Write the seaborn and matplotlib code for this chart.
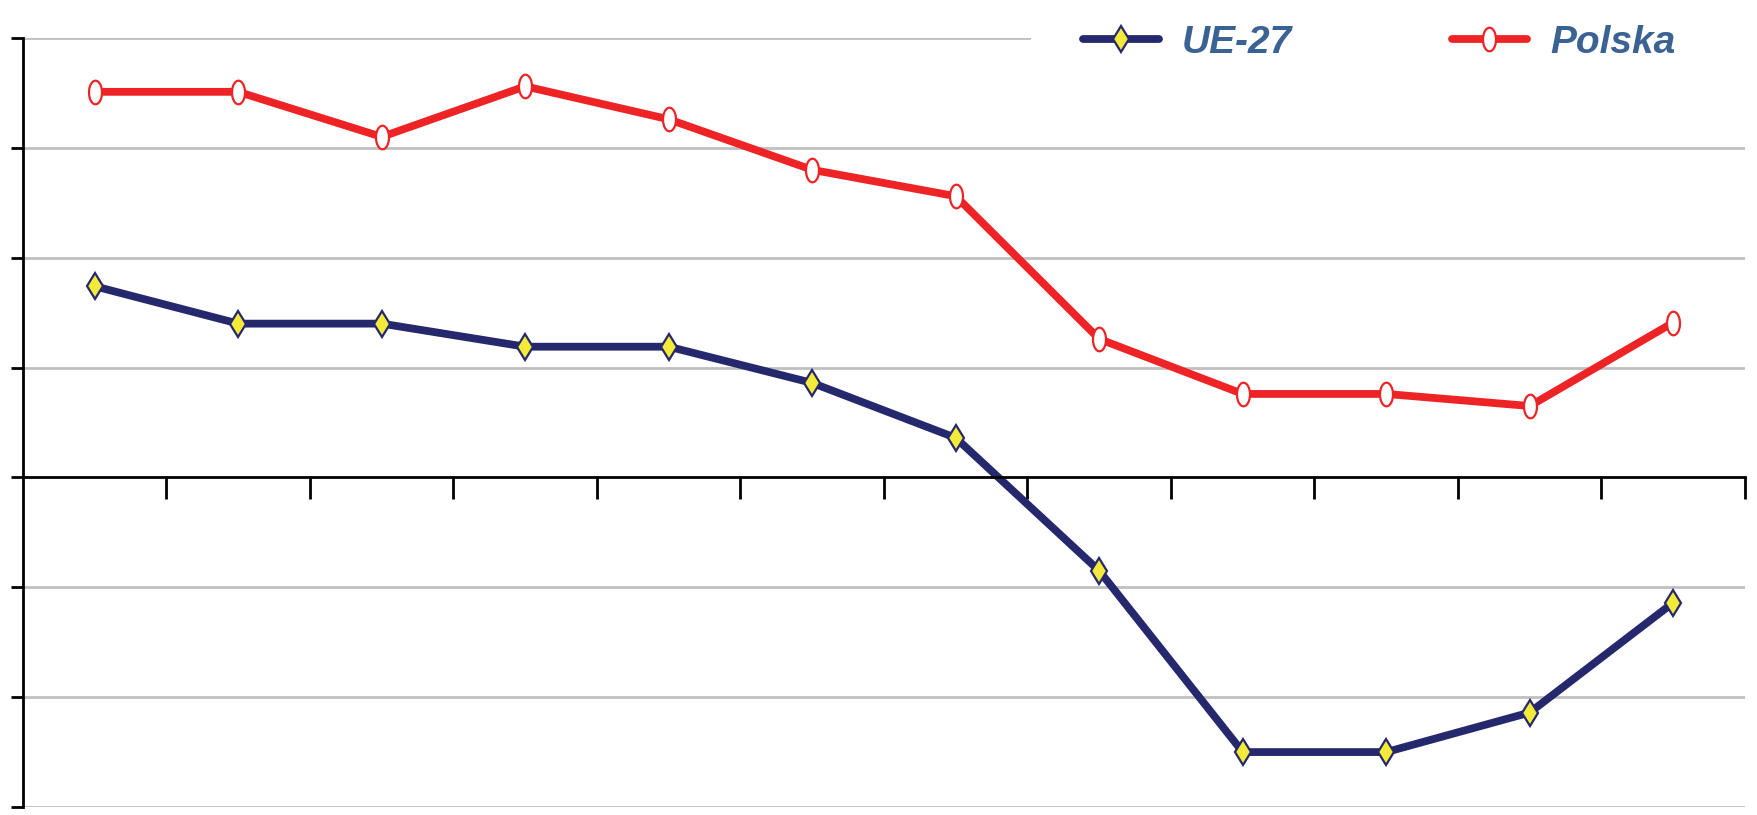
import numpy as np
import pandas as pd
import matplotlib
matplotlib.use("Agg")
import matplotlib.pyplot as plt
from matplotlib.path import Path
import seaborn as sns

# ---- data ----
periods = list(range(12))
ue27 = [1.74, 1.40, 1.40, 1.19, 1.19, 0.86, 0.36, -0.85, -2.50, -2.50, -2.14, -1.14]
polska = [3.51, 3.51, 3.10, 3.56, 3.26, 2.80, 2.56, 1.26, 0.76, 0.76, 0.65, 1.41]
series_names = ["UE-27", "Polska"]

df = pd.DataFrame({
    "okres": periods * 2,
    "wartosc": ue27 + polska,
    "seria": ["UE-27"] * len(ue27) + ["Polska"] * len(polska),
})

sns.set_theme(style="white")
plt.rcParams['font.family'] = ['Liberation Sans', 'DejaVu Sans']

fig = plt.figure(figsize=(17.58, 8.15), dpi=100)
ax = fig.add_axes([23 / 1758, 8 / 815, (1745 - 23) / 1758, (807 - 38) / 815])

# ellipse marker
t = np.linspace(0, 2 * np.pi, 40)
ell = Path(np.column_stack([0.55 * np.cos(t), np.sin(t)]), closed=True)

navy = "#26286e"
red = "#ee2326"
styles = {
    "UE-27": dict(color=navy, marker="d", markerfacecolor="#f4ea3a", markeredgecolor=navy,
                  markersize=13, markeredgewidth=1.6),
    "Polska": dict(color=red, marker=ell, markerfacecolor="white", markeredgecolor=red,
                   markersize=17, markeredgewidth=1.6),
}

for name in series_names:
    sub = df[df["seria"] == name]
    sns.lineplot(data=sub, x="okres", y="wartosc", ax=ax, label=name, linewidth=5.6,
                 **styles[name])

ax.set_xlim(-0.5, 11.5)
ax.set_ylim(-3, 4)

# grid lines (top one is hidden behind the legend box on the right)
for yv in range(-3, 5):
    if yv == 0:
        continue
    if yv == 4:
        ax.axhline(yv, xmin=0, xmax=(1031 - 23) / (1745 - 23), color="#c0c0c0",
                   linewidth=2, zorder=0)
    else:
        ax.axhline(yv, color="#c0c0c0", linewidth=2, zorder=0)

for s in ["top", "right"]:
    ax.spines[s].set_visible(False)
ax.spines["bottom"].set_position(("data", 0))
ax.spines["bottom"].set_linewidth(2)
ax.spines["bottom"].set_color("black")
ax.spines["left"].set_linewidth(2)
ax.spines["left"].set_color("black")

ax.set_xticks(np.arange(0.5, 12, 1))
ax.set_xticklabels([])
ax.set_yticks(range(-3, 5))
ax.set_yticklabels([])
ax.tick_params(axis="x", direction="out", length=16, width=2, color="black", bottom=True)
ax.tick_params(axis="y", direction="out", length=9, width=2, color="black", left=True)
ax.set_xlabel("")
ax.set_ylabel("")

leg = ax.legend(loc="center left", bbox_to_anchor=(1031 / 1758, 1 - 43 / 815),
                bbox_transform=fig.transFigure, ncol=2, frameon=True, fancybox=False,
                facecolor="white", edgecolor="none", framealpha=1.0,
                prop=dict(family=['Liberation Sans', 'DejaVu Sans'],
                          style="italic", weight="bold", size=28),
                handlelength=1.93, handletextpad=0.6, columnspacing=4.1,
                borderpad=1.35, borderaxespad=0)
for txt in leg.get_texts():
    txt.set_color("#3a6394")
leg.set_zorder(5)

fig.savefig("out.png", dpi=100, facecolor="white")
